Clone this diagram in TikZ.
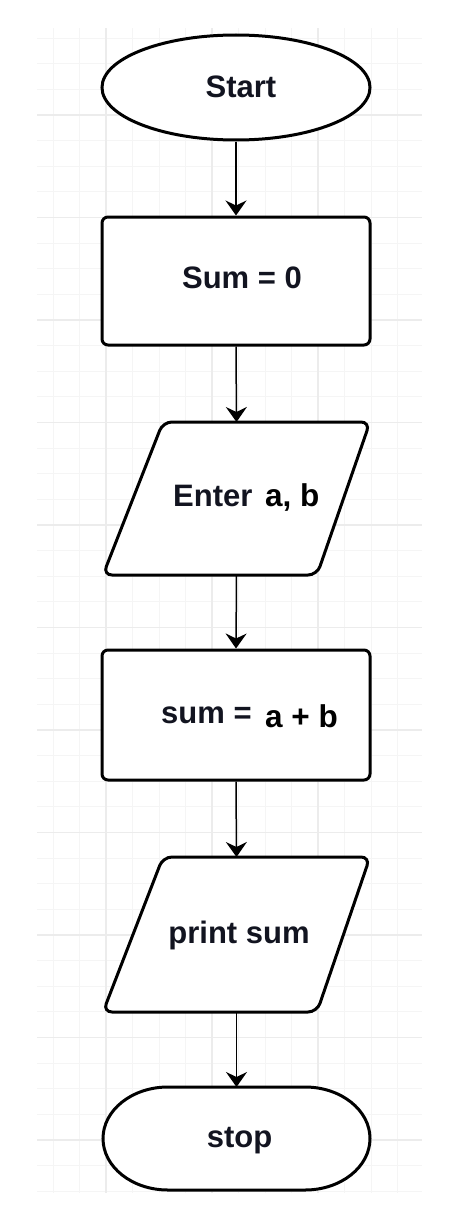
\documentclass[tikz,border=0pt]{standalone}
\usepackage{fontspec}
\setmainfont{Liberation Sans}
\usetikzlibrary{shapes.geometric,arrows.meta}
\definecolor{txt}{RGB}{18,20,32}
\definecolor{gminor}{RGB}{245,245,245}
\definecolor{gmajor}{RGB}{236,236,236}
\tikzset{
  shapeline/.style={draw=black, line width=3pt, fill=white},
  flowarrow/.style={draw=black, line width=1.5pt, -{Stealth[length=15pt,width=21pt,inset=5pt]}},
  frame/.style={draw=none, inner sep=0pt, outer sep=0pt, rectangle},
  lbl/.style={font=\bfseries\fontsize{31}{36}\selectfont, text=txt, inner sep=0pt, anchor=base},
  lblb/.style={font=\bfseries\fontsize{31.5}{36}\selectfont, text=black, inner sep=0pt, anchor=base west},
}
\begin{document}
\begin{tikzpicture}[x=1pt,y=1pt]
\useasboundingbox (0,0) rectangle (464,-1215);
% grid
\foreach \k in {-2,...,11} {
  \draw[gminor, line width=1pt] ({106+26.5*\k},-28) -- ({106+26.5*\k},-1193);
}
\foreach \k in {-3,...,42} {
  \draw[gminor, line width=1pt] (37,{-115-25.625*\k}) -- (422,{-115-25.625*\k});
}
\foreach \k in {0,1,2} {
  \draw[gmajor, line width=1.2pt] ({106+106*\k},-28) -- ({106+106*\k},-1193);
}
\foreach \k in {0,...,10} {
  \draw[gmajor, line width=1.2pt] (37,{-115-102.5*\k}) -- (422,{-115-102.5*\k});
}
% shapes
\node[ellipse, shapeline, minimum width=268pt, minimum height=105pt, inner sep=0pt] (start) at (236,-87.5) {};
\node[rectangle, shapeline, rounded corners=6pt, minimum width=268pt, minimum height=128pt] (sum0) at (236,-281) {};
\node[frame, minimum width=267pt, minimum height=153pt] (enter) at (236.5,-498.5) {};
\draw[shapeline, rounded corners=9pt] (163,-422) -- (370,-422) -- (317,-575) -- (103,-575) -- cycle;
\node[rectangle, shapeline, rounded corners=6pt, minimum width=268pt, minimum height=130pt] (sumab) at (236,-715) {};
\node[frame, minimum width=267pt, minimum height=155pt] (print) at (236.5,-934.5) {};
\draw[shapeline, rounded corners=9pt] (163,-857) -- (370,-857) -- (317,-1012) -- (103,-1012) -- cycle;
\node[frame, minimum width=267pt, minimum height=103pt] (stop) at (236.5,-1138.5) {};
\draw[shapeline] (168,-1087) -- (305,-1087) arc[start angle=90, end angle=-90, x radius=65, y radius=51.5]
  -- (168,-1190) arc[start angle=270, end angle=90, x radius=65, y radius=51.5] -- cycle;
% labels
\node[lbl] (tstart) at (241,-97) {Start};
\node[lbl] (tsum0) at (242,-288) {Sum = 0};
\node[lbl, anchor=base west] (tenter) at (173,-506) {Enter};
\node[lblb] (tab) at (265,-506) {a, b};
\node[lbl, anchor=base west] (tsum) at (161,-723) {sum =};
\node[lblb] (tapb) at (265,-727) {a + b};
\node[lbl] (tprint) at (239,-943) {print sum};
\node[lbl] (tstop) at (239.5,-1147) {stop};
% connectors
\draw[flowarrow] (start.south) -- (sum0.north);
\draw[flowarrow] (sum0.south) -- (enter.north);
\draw[flowarrow] (enter.south) -- (sumab.north);
\draw[flowarrow] (sumab.south) -- (print.north);
\draw[flowarrow] (print.south) -- (stop.north);
\end{tikzpicture}
\end{document}
